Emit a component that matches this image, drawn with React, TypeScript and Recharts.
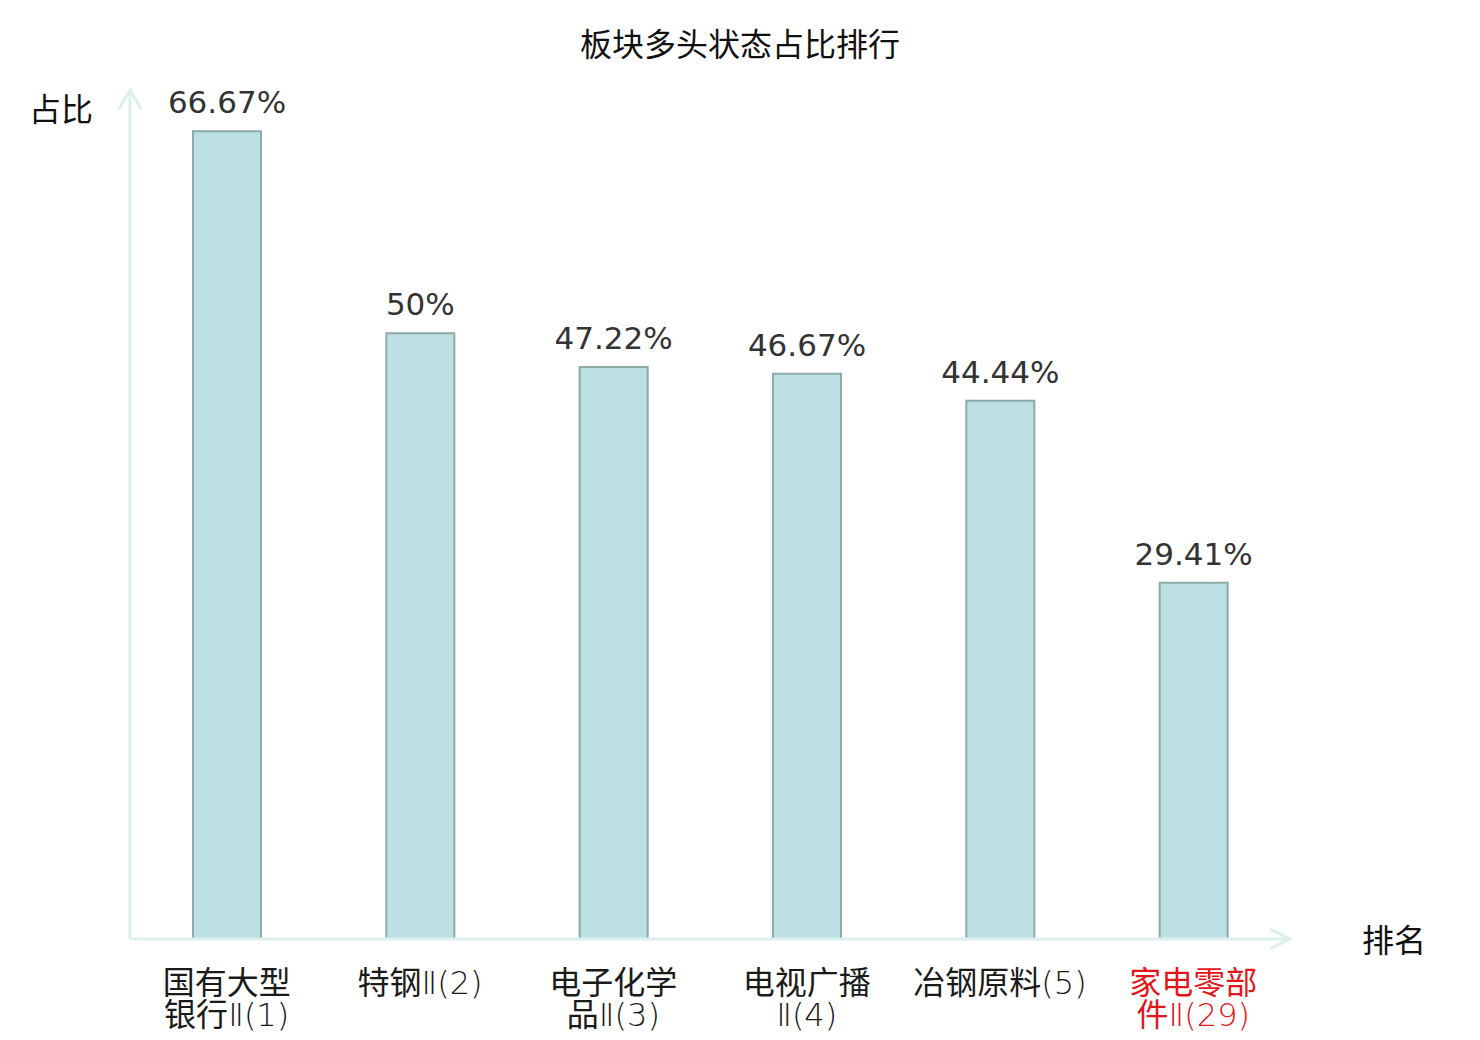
import React from 'react'
import { BarChart, Bar, XAxis, YAxis, LabelList } from 'recharts'

const sectors = ['国有大型银行Ⅱ', '特钢Ⅱ', '电子化学品Ⅱ', '电视广播Ⅱ', '冶钢原料', '家电零部件Ⅱ']
const ranks = [1, 2, 3, 4, 5, 29]
const ratios = [66.67, 50, 47.22, 46.67, 44.44, 29.41]
// how the category names wrap under the axis
const tickLines = [
  ['国有大型', '银行Ⅱ(1)'],
  ['特钢Ⅱ(2)'],
  ['电子化学', '品Ⅱ(3)'],
  ['电视广播', 'Ⅱ(4)'],
  ['冶钢原料(5)'],
  ['家电零部', '件Ⅱ(29)'],
]
const highlightRank = 29

const data = sectors.map((name, i) => ({ name, rank: ranks[i], ratio: ratios[i], lines: tickLines[i] }))

const CJK = '"Noto Sans CJK SC", "Noto Sans", sans-serif'
const NUM = '"DejaVu Sans", "Noto Sans CJK SC", sans-serif'
const AXIS = '#dcf1ee'

// hanzi stay regular, the roman numeral and rank come out thin
function runs(line: string) {
  return line.split(/([\u4e00-\u9fff]+)/).filter(Boolean)
}

function CategoryTick({ x, y, payload, index }: any) {
  const row = data[index] ?? data.find((d) => d.name === payload.value)
  const color = row && row.rank === highlightRank ? '#e3161c' : '#1a1a1a'
  return (
    <text x={x} y={y} textAnchor="middle" fill={color} fontSize={32}>
      {(row ? row.lines : [payload.value]).map((line: string, i: number) => (
        <tspan key={i} x={x} y={y + 55 + i * 32}>
          {runs(line).map((part, j) =>
            /[\u4e00-\u9fff]/.test(part) ? (
              <tspan key={j} fontFamily={CJK} fontWeight={400}>
                {part}
              </tspan>
            ) : (
              <tspan key={j} fontFamily={NUM} fontWeight={200}>
                {part}
              </tspan>
            ),
          )}
        </tspan>
      ))}
    </text>
  )
}

function ValueLabel({ x, y, width, value }: any) {
  return (
    <text x={x + width / 2} y={y - 18} textAnchor="middle" fill="#333" fontSize={31} fontFamily={NUM}>
      {`${value}%`}
    </text>
  )
}

function XArrow({ viewBox }: any) {
  const { x, y, width } = viewBox
  const tip = x + width
  return (
    <g>
      <polyline points={`${tip - 20},${y - 10} ${tip},${y} ${tip - 20},${y + 10}`} fill="none" stroke={AXIS} strokeWidth={3} />
      <text x={tip + 72} y={y + 13} fill="#111" fontSize={32} fontFamily={CJK}>
        排名
      </text>
    </g>
  )
}

function YArrow({ viewBox }: any) {
  const { x, y, width } = viewBox
  const ax = x + width
  return (
    <g>
      <polyline points={`${ax - 11},${y + 18} ${ax},${y - 1} ${ax + 11},${y + 18}`} fill="none" stroke={AXIS} strokeWidth={3} />
      <text x={ax - 37} y={y + 30} textAnchor="end" fill="#111" fontSize={32} fontFamily={CJK}>
        占比
      </text>
    </g>
  )
}

export default function App() {
  return (
    <div style={{ position: 'absolute', left: 0, top: 0, width: 1480, height: 1040, background: '#fff' }}>
      <div
        style={{
          position: 'absolute',
          left: 0,
          top: 20,
          width: 1480,
          textAlign: 'center',
          fontFamily: CJK,
          fontSize: 32,
          lineHeight: '44px',
          color: '#111',
        }}
      >
        板块多头状态占比排行
      </div>
      <BarChart width={1480} height={1040} data={data} margin={{ top: 91, right: 190, left: 120, bottom: 0 }}>
        <XAxis
          dataKey="name"
          height={101}
          interval={0}
          tickLine={false}
          tickSize={0}
          tickMargin={0}
          axisLine={{ stroke: AXIS, strokeWidth: 3 }}
          tick={<CategoryTick />}
          label={<XArrow />}
        />
        <YAxis
          width={10}
          domain={[0, 70]}
          tick={false}
          tickLine={false}
          axisLine={{ stroke: AXIS, strokeWidth: 3 }}
          label={<YArrow />}
        />
        <Bar dataKey="ratio" barSize={68} fill="#bce0e4" stroke="#8fa9a9" strokeWidth={2} isAnimationActive={false}>
          <LabelList dataKey="ratio" content={<ValueLabel />} />
        </Bar>
      </BarChart>
    </div>
  )
}
